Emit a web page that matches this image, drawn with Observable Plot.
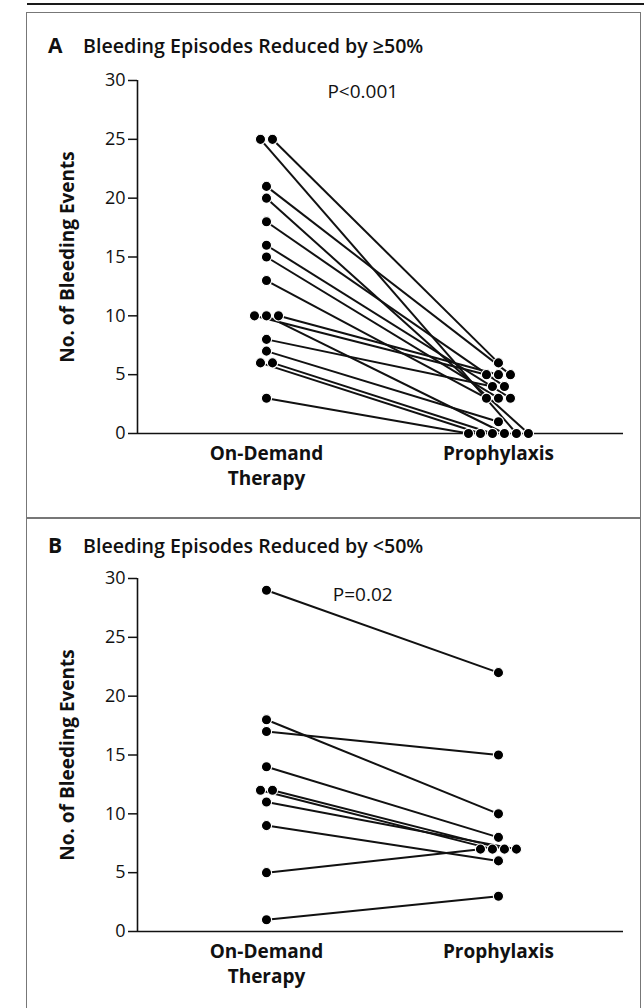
<!DOCTYPE html>
<html>
<head>
<meta charset="utf-8">
<script src="https://cdn.jsdelivr.net/npm/d3@7"></script>
<script src="https://cdn.jsdelivr.net/npm/@observablehq/plot@0.6"></script>
<style>
html, body { margin: 0; padding: 0; background: #fff; }
#page { position: relative; width: 644px; height: 1008px; overflow: hidden; font-family: "Open Sans", sans-serif; color: #111; background: #fff; }
.toprule { position: absolute; left: 27px; top: 3px; width: 617px; height: 2px; background: #1a1a1a; }
.box { position: absolute; left: 26px; width: 615px; box-sizing: border-box; border: 1.5px solid #777; }
.title { position: absolute; left: 48px; font-size: 19.6px; font-weight: 600; white-space: nowrap; line-height: 1; }
.title .lt { font-weight: 700; font-size: 21px; display: inline-block; width: 35px; }
.panel { position: absolute; left: 0; }
</style>
</head>
<body>
<div id="page">
  <div class="panel" id="panelA" style="top:0px"></div>
  <div class="panel" id="panelB" style="top:498px"></div>
  <div class="toprule"></div>
  <div class="box" style="top:12px;height:507px"></div>
  <div class="box" style="top:517px;height:520px"></div>
  <div class="title" id="titleA" style="top:35px"></div>
  <div class="title" id="titleB" style="top:535px"></div>
</div>
<script>
// ---------- data ----------
const categories = ["On-Demand\nTherapy", "Prophylaxis"];
const yTicks = [0, 5, 10, 15, 20, 25, 30];
const yLabel = "No. of Bleeding Events";

const panelLetters = ["A", "B"];
const panelTitles = ["Bleeding Episodes Reduced by \u226550%", "Bleeding Episodes Reduced by <50%"];
const pValues = ["P<0.001", "P=0.02"];

// Panel A: paired patients (on-demand -> prophylaxis)
const onDemandA    = [3, 6, 6, 10, 10, 10, 25, 20, 7, 8, 18, 21, 13, 15, 16, 25];
const prophylaxisA = [0, 0, 0,  5,  0,  5,  0,  0, 1, 4,  4,  5,  3,  3,  3,  6];

// Panel B: paired patients
const onDemandB    = [29, 18, 17, 14, 5, 12, 12, 11, 9, 1];
const prophylaxisB = [22, 10, 15,  8, 7,  7,  7,  7, 6, 3];

// ---------- helpers ----------
function offsets(vals) {
  const counts = d3.rollup(vals, v => v.length, d => d);
  const seen = new Map();
  return vals.map(v => {
    const n = counts.get(v);
    const i = seen.get(v) || 0;
    seen.set(v, i + 1);
    return i - (n - 1) / 2;
  });
}

const xDomain = [0.444, 2.539];
const step = 0.0517; // spacing of tied dots (in x units)

function makePanel(onDemand, prophylaxis, pLabel, pY) {
  const oA = offsets(onDemand), oB = offsets(prophylaxis);
  const links = onDemand.map((v, i) => ({
    x1: 1 + oA[i] * step, y1: v,
    x2: 2 + oB[i] * step, y2: prophylaxis[i]
  }));
  const dots = [
    ...onDemand.map((v, i) => ({x: 1 + oA[i] * step, y: v})),
    ...prophylaxis.map((v, i) => ({x: 2 + oB[i] * step, y: v}))
  ];
  return Plot.plot({
    width: 644,
    height: 500,
    marginLeft: 137,
    marginRight: 21,
    marginTop: 80,
    marginBottom: 67,
    style: {background: "transparent", fontFamily: "'Open Sans', sans-serif", fontSize: "18px", color: "#111", overflow: "visible"},
    x: {domain: xDomain, axis: null},
    y: {domain: [0, 30], axis: null},
    marks: [
      Plot.axisY({ticks: yTicks, tickSize: 9, tickPadding: 3, label: null, fontSize: 18, strokeWidth: 1.5}),
      Plot.axisX({ticks: [1, 2], tickFormat: d => categories[d - 1], tickSize: 0, tickPadding: 9, label: null, fontWeight: "bold", fontSize: 19, lineHeight: 1.3}),
      Plot.ruleX([xDomain[0]], {stroke: "#111", strokeWidth: 1.6}),
      Plot.ruleY([0], {stroke: "#111", strokeWidth: 1.6}),
      Plot.text([yLabel], {text: d => d, frameAnchor: "left", rotate: -90, dx: -70, textAnchor: "middle", lineAnchor: "middle", fontWeight: "bold", fontSize: 19}),
      Plot.text([pLabel], {text: d => d, x: () => 1.415, y: () => pY, textAnchor: "middle", lineAnchor: "bottom", fontSize: 19}),
      Plot.link(links, {x1: "x1", y1: "y1", x2: "x2", y2: "y2", stroke: "#111", strokeWidth: 2}),
      Plot.dot(dots, {x: "x", y: "y", r: 5.1, fill: "#000", stroke: "#fff", strokeWidth: 1.1})
    ]
  });
}

document.getElementById("panelA").appendChild(makePanel(onDemandA, prophylaxisA, pValues[0], 28.5));
document.getElementById("panelB").appendChild(makePanel(onDemandB, prophylaxisB, pValues[1], 28.1));

["titleA", "titleB"].forEach((id, i) => {
  const el = document.getElementById(id);
  const lt = document.createElement("span");
  lt.className = "lt";
  lt.textContent = panelLetters[i];
  el.appendChild(lt);
  el.appendChild(document.createTextNode(panelTitles[i]));
});
</script>
</body>
</html>
